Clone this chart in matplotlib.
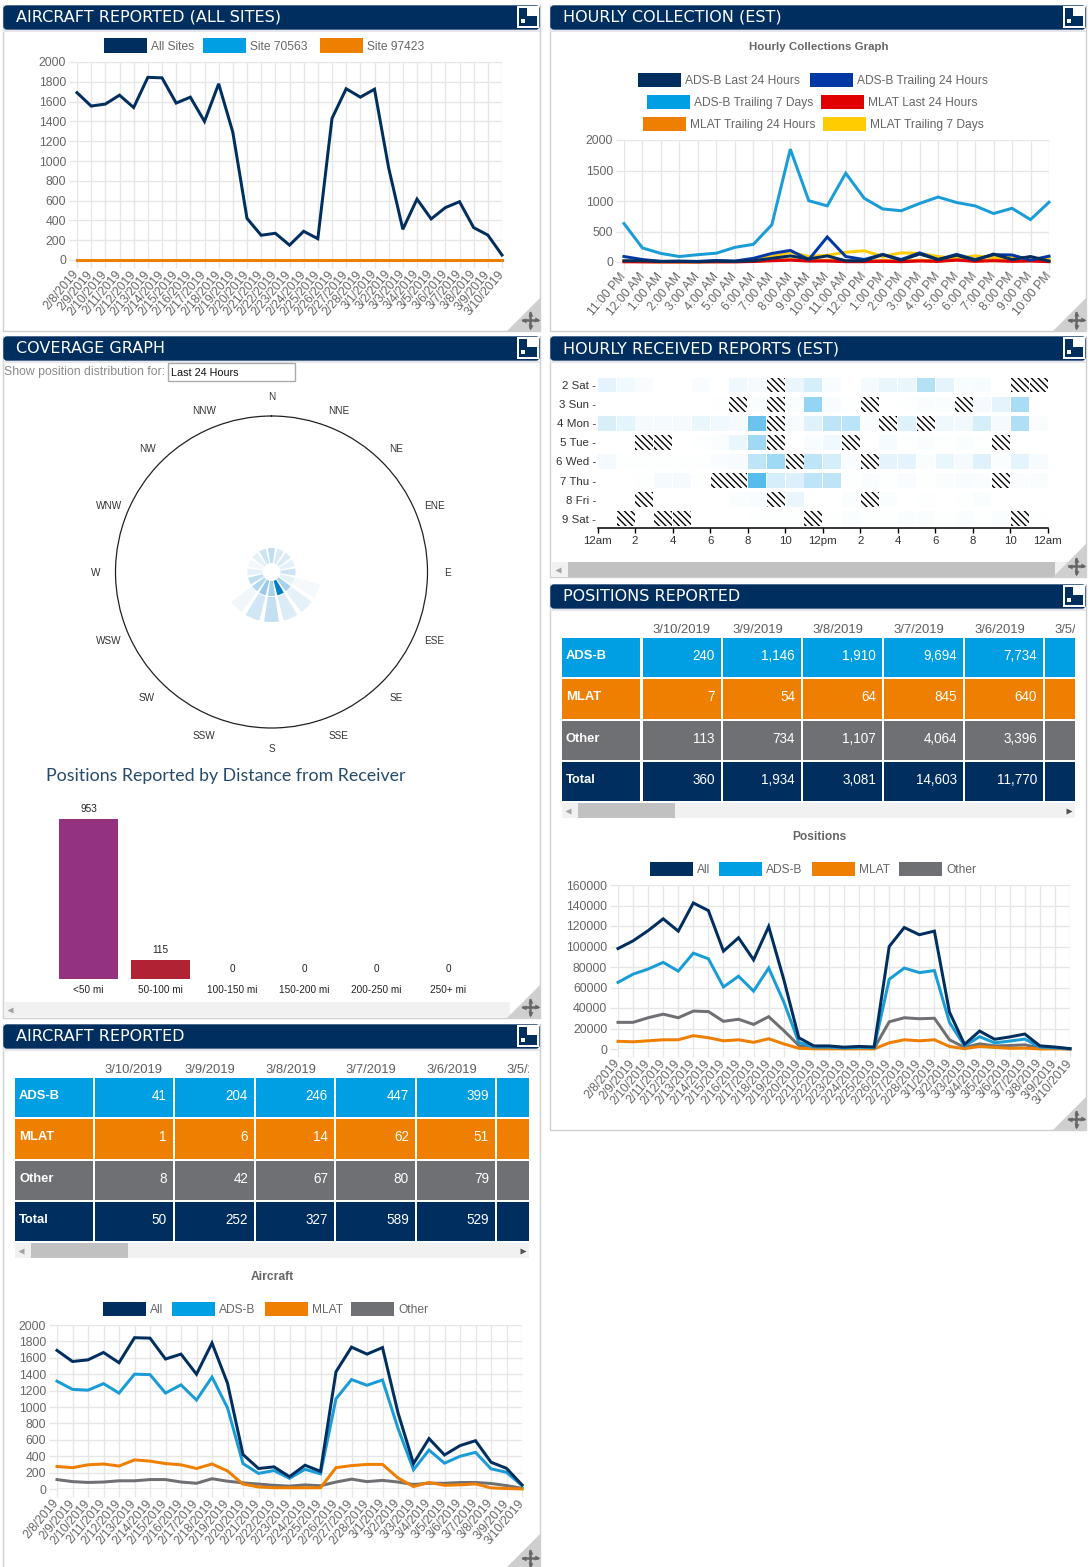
import matplotlib
matplotlib.use('Agg')
import matplotlib.pyplot as plt
from matplotlib.patches import Rectangle, Polygon, FancyBboxPatch
import numpy as np

W, H = 1091, 1567
NAVY, BLUE, ORANGE, GREY = '#002f5f', '#009fe3', '#ef7f00', '#6f7074'
MID, RED, YELLOW = '#0039a6', '#e00000', '#ffcc00'
LINE_BLUE = '#1a9cd6'

dates = ['2/8/2019','2/9/2019','2/10/2019','2/11/2019','2/12/2019','2/13/2019','2/14/2019','2/15/2019',
         '2/16/2019','2/17/2019','2/18/2019','2/19/2019','2/20/2019','2/21/2019','2/22/2019','2/23/2019',
         '2/24/2019','2/25/2019','2/26/2019','2/27/2019','2/28/2019','3/1/2019','3/2/2019','3/3/2019',
         '3/4/2019','3/5/2019','3/6/2019','3/7/2019','3/8/2019','3/9/2019','3/10/2019']
air_all = [1690,1555,1575,1665,1540,1845,1840,1585,1645,1400,1780,1290,420,250,270,150,290,215,1430,1730,1645,
           1725,930,310,615,415,529,589,327,252,50]
air_adsb = [1315,1215,1205,1285,1170,1400,1395,1170,1270,1085,1365,990,310,190,225,130,240,185,1100,1335,1265,
            1330,740,235,475,315,399,447,246,204,41]
air_mlat = [275,260,295,305,280,355,340,310,295,250,305,220,60,25,15,15,15,15,260,285,300,
            300,135,30,80,45,51,62,14,6,1]
air_other = [115,90,80,85,100,100,115,115,85,70,125,95,75,60,45,35,50,40,85,120,90,
             105,85,55,70,70,79,80,67,42,8]
site_70563 = [0]*31
site_97423 = [0]*31

pos_all = [98000,105500,115500,127000,115000,142500,135000,95500,108500,87000,119500,68000,11000,3000,3000,1800,2500,2000,
           100000,118500,111500,115000,36000,4500,17500,9500,11770,14603,3081,1934,360]
pos_adsb = [65000,73000,78000,84500,76000,93500,88000,60500,71000,56500,79000,46000,6500,1800,1800,1000,1500,1300,
            68000,79000,74500,76500,26000,3000,12000,6000,7734,9694,1910,1146,240]
pos_mlat = [7500,7000,8000,9000,9000,13000,11000,8000,9000,6500,10000,5000,700,200,150,100,150,120,
            6000,9000,8000,9000,2500,300,2500,1500,640,845,64,54,7]
pos_other = [26000,26000,30500,34000,30500,37000,36500,27000,29000,24000,31500,18000,3500,1000,900,600,800,700,
             26500,30500,29500,30000,9000,1500,5000,3000,3396,4064,1107,734,113]

hours = ['11:00 PM','12:00 AM','1:00 AM','2:00 AM','3:00 AM','4:00 AM','5:00 AM','6:00 AM','7:00 AM','8:00 AM','9:00 AM',
         '10:00 AM','11:00 AM','12:00 PM','1:00 PM','2:00 PM','3:00 PM','4:00 PM','5:00 PM','6:00 PM','7:00 PM','8:00 PM',
         '9:00 PM','10:00 PM']
h_adsb_last = [20,20,10,10,5,15,10,20,60,100,50,100,20,20,120,30,130,40,110,30,130,40,90,15]
h_adsb_t24 = [90,40,10,15,10,25,15,60,140,190,40,410,90,40,125,40,150,40,125,40,120,115,30,95]
h_adsb_t7 = [630,230,140,90,120,145,240,290,610,1850,1005,920,1455,1045,870,840,960,1065,975,920,795,880,695,980]
h_mlat_last = [3,2,1,1,1,2,2,8,20,30,15,15,5,5,10,5,15,10,30,10,20,10,15,5]
h_mlat_t24 = [10,5,2,2,2,5,5,10,30,40,20,30,20,10,30,15,30,15,40,20,30,20,25,15]
h_mlat_t7 = [20,10,5,5,5,10,10,30,90,160,90,110,160,185,90,150,140,90,60,100,70,80,60,60]

# heat map: share of the top colour per hour; None = hatched (no data)
X = None
days = ['2 Sat -','3 Sun -','4 Mon -','5 Tue -','6 Wed -','7 Thu -','8 Fri -','9 Sat -']
heat_sat2 = [.12,.07,.03,0,0,.03,0,.08,.05,X,.1,.2,.03,0,.05,.1,.1,.35,.12,.03,.04,0,X,X]
heat_sun3 = [0,0,0,0,0,0,.01,X,.02,X,.02,.5,.03,.01,X,0,.01,.02,.02,X,.05,.12,.4,0]
heat_mon4 = [.18,.13,.05,.05,.05,.1,.07,.05,.7,X,.04,.15,.3,.32,.02,X,.15,X,.08,.06,.2,.05,.38,.02]
heat_tue5 = [0,0,X,X,0,.01,.02,.1,.45,X,0,.03,.07,X,0,.04,.01,.02,.01,.02,.01,X,0,0]
heat_wed6 = [.05,.01,.01,.01,.01,.01,.03,.04,.3,.45,X,.3,.2,.03,X,.12,.12,.02,.1,.05,.15,.02,.12,.04]
heat_thu7 = [0,0,.01,.05,.05,.01,X,X,.8,.2,.17,.3,.3,.01,.02,.01,.03,.01,.02,.03,.02,X,.02,.02]
heat_fri8 = [0,0,X,0,0,0,0,.02,.03,X,.1,0,0,.02,X,.02,0,.01,0,.01,.02,0,0,0]
heat_sat9 = [0,X,0,X,X,0,0,0,.01,.01,.01,X,.01,.02,.01,.01,.02,.02,.01,.02,.01,.02,X,.01]
heat_rows = [heat_sat2,heat_sun3,heat_mon4,heat_tue5,heat_wed6,heat_thu7,heat_fri8,heat_sat9]
heat_ticks = ['12am','2','4','6','8','10','12pm','2','4','6','8','10','12am']

compass = ['N','NNE','NE','ENE','E','ESE','SE','SSE','S','SSW','SW','WSW','W','WNW','NW','NNW']
rose_inner = [.25,.15,.15,.1,.2,.1,.35,1.0,.35,.4,.3,.25,.1,.05,.1,.2]
rose_outer = [0,0,0,0,0,.04,.1,.14,.24,.18,.06,0,0,0,0,0]

dist_labels = ['<50 mi','50-100 mi','100-150 mi','150-200 mi','200-250 mi','250+ mi']
dist_values = [953,115,0,0,0,0]
dist_colors = ['#93327f','#b12234','#888888','#888888','#888888','#888888']

table_dates = ['3/10/2019','3/9/2019','3/8/2019','3/7/2019','3/6/2019','3/5/2019']
table_rows = ['ADS-B','MLAT','Other','Total']
pos_table = [['240','1,146','1,910','9,694','7,734'],['7','54','64','845','640'],
             ['113','734','1,107','4,064','3,396'],['360','1,934','3,081','14,603','11,770']]
air_table = [['41','204','246','447','399'],['1','6','14','62','51'],
             ['8','42','67','80','79'],['50','252','327','589','529']]

plt.rcParams['font.family'] = ['Liberation Sans', 'DejaVu Sans']
plt.rcParams['hatch.linewidth'] = 1.0
fig = plt.figure(figsize=(W/100, H/100), dpi=100, facecolor='white')
px = lambda p: p*0.72

root = fig.add_axes([0, 0, 1, 1])
root.set_xlim(0, W); root.set_ylim(H, 0); root.axis('off')

def rect(x0, y0, x1, y1, fc, ec='none', lw=0, z=1, ax=root):
    r = Rectangle((x0, y0), x1-x0, y1-y0, facecolor=fc, edgecolor=ec, linewidth=lw, zorder=z)
    ax.add_patch(r)
    return r

def axes_px(x0, y0, x1, y1, **kw):
    a = fig.add_axes([x0/W, 1-y1/H, (x1-x0)/W, (y1-y0)/H], **kw)
    a.patch.set_alpha(0)
    return a

def panel(x0, y0, x1, y1, title):
    root.plot([x0, x0, x1, x1], [y0, y1, y1, y0], color='#cfcfcf', lw=1, zorder=1)
    root.add_patch(FancyBboxPatch((x0+1, y0+1), x1-x0-2, 23, boxstyle='round,pad=0,rounding_size=3',
                                  fc=NAVY, ec=NAVY, lw=1, zorder=3))
    rect(x0, y0+25, x1, y0+27, '#e4e6e9', z=2)
    root.text(x0+13, y0+12.5, title, color='white', fontsize=px(16), va='center', ha='left',
              family='DejaVu Sans', zorder=4)
    # corner icon
    ix = x1-23
    rect(ix, y0+1, ix+22, y0+23, 'white', z=4)
    rect(ix+2, y0+3, ix+20, y0+21, NAVY, z=5)
    rect(ix+10, y0+3, ix+20, y0+11, 'white', z=6)
    rect(ix+4, y0+14, ix+8, y0+18, 'white', z=6)
    # resize corner
    by = min(y1, H)
    root.add_patch(Polygon([[x1, by-33], [x1, by], [x1-33, by]], closed=True, fc='#cfcfcf', ec='none', zorder=6))
    cx, cy = x1-10, by-11
    if y1 > H:
        cx, cy = x1-10, H-9
    root.plot([cx-7, cx+7], [cy, cy], color='#666666', lw=1.8, zorder=7)
    root.plot([cx, cx], [cy-7, cy+7], color='#666666', lw=1.8, zorder=7)
    for mk, mx, my in [('<', cx-7, cy), ('>', cx+7, cy), ('^', cx, cy-7), ('v', cx, cy+7)]:
        root.plot([mx], [my], marker=mk, ms=3.6, color='#666666', mec='none', zorder=7)

def legend(items, y):
    for bx, color, label in items:
        rect(bx, y-7.5, bx+43, y+7, color, z=3)
        root.text(bx+47, y+1, label, fontsize=px(12), color='#666666', va='center', ha='left', zorder=3)

def line_chart(box, ymax, step, labels, series):
    a = axes_px(*box)
    n = len(labels)
    xs = np.arange(n)
    for values, color in series:
        a.plot(xs, values, color=color, lw=px(3), solid_joinstyle='miter', clip_on=False, zorder=3)
    a.set_xlim(0, n-1); a.set_ylim(0, ymax)
    a.set_yticks(np.arange(0, ymax+1, step))
    a.set_xticks(xs); a.set_xticklabels(labels, rotation=50, ha='right', va='center', rotation_mode='anchor')
    a.grid(True, color='#e6e6e6', lw=1)
    a.set_axisbelow(True)
    a.tick_params(axis='both', color='#e6e6e6', length=px(8), width=1, labelcolor='#666666', labelsize=px(12.3), pad=2)
    a.tick_params(axis='x', pad=3)
    for s in ['top', 'right', 'left', 'bottom']:
        a.spines[s].set_visible(False)
    a.axhline(0, color='#b5b5b5', lw=1, zorder=2)
    return a

def scrollbar(x0, x1, y0, y1, thumb=None, right_arrow=False):
    rect(x0, y0, x1, y1, '#f1f1f1', z=2)
    ym = (y0+y1)/2
    root.plot([x0+6], [ym], marker='<', ms=4, color='#a3a3a3', mec='none', zorder=3)
    if right_arrow:
        root.plot([x1-6], [ym], marker='>', ms=4, color='#505050', mec='none', zorder=3)
    if thumb:
        rect(thumb[0], y0, thumb[1], y1, '#c1c1c1', z=3)

def table(x_edges, y_top, clip_right, values):
    clip = Rectangle((x_edges[0][0], y_top-25), clip_right-x_edges[0][0], 200, transform=root.transData)
    colors = [BLUE, ORANGE, GREY, NAVY]
    for j, (xa, xb) in enumerate(x_edges[1:]):
        t = root.text(xa+9, y_top-8, table_dates[j], fontsize=px(13), color='#5f5f5f', ha='left', va='center',
                      zorder=3, clip_on=True)
        t.set_clip_path(clip)
    for i, name in enumerate(table_rows):
        ya = y_top + i*41.3
        yb = ya + 39.3
        for j, (xa, xb) in enumerate(x_edges):
            rect(xa, ya, min(xb, clip_right), yb, colors[i], z=2)
        root.text(x_edges[0][0]+4, (ya+yb)/2-1.5, name, fontsize=px(13), color='white', fontweight='bold',
                  ha='left', va='center', zorder=3)
        for j in range(5):
            root.text(x_edges[j+1][1]-6, (ya+yb)/2-1.5, values[i][j], fontsize=px(13.5), color='white',
                      ha='right', va='center', zorder=3)

# ----- panels
panel(3, 5, 540, 331, 'AIRCRAFT REPORTED (ALL SITES)')
panel(550, 5, 1086, 331, 'HOURLY COLLECTION (EST)')
panel(3, 336, 540, 1018, 'COVERAGE GRAPH')
panel(550, 336, 1086, 577, 'HOURLY RECEIVED REPORTS (EST)')
panel(550, 584, 1086, 1130, 'POSITIONS REPORTED')
panel(3, 1024, 540, 1600, 'AIRCRAFT REPORTED')

# ----- aircraft, all sites
legend([(104, NAVY, 'All Sites'), (203, BLUE, 'Site 70563'), (320, ORANGE, 'Site 97423')], 45.5)
line_chart((77, 62, 502, 260), 2000, 200, dates,
           [(site_70563, BLUE), (site_97423, ORANGE), (air_all, NAVY)])

# ----- hourly collection
root.text(819, 47.5, 'Hourly Collections Graph', fontsize=px(11.5), color='#666666', fontweight='bold', ha='center', va='center')
legend([(638, NAVY, 'ADS-B Last 24 Hours'), (810, MID, 'ADS-B Trailing 24 Hours')], 80)
legend([(647, BLUE, 'ADS-B Trailing 7 Days'), (821, RED, 'MLAT Last 24 Hours')], 102)
legend([(643, ORANGE, 'MLAT Trailing 24 Hours'), (823, YELLOW, 'MLAT Trailing 7 Days')], 124)
line_chart((624, 140, 1049, 262), 2000, 500, hours,
           [(h_mlat_t7, YELLOW), (h_mlat_t24, ORANGE), (h_mlat_last, RED), (h_adsb_t7, LINE_BLUE),
            (h_adsb_t24, MID), (h_adsb_last, NAVY)])

# ----- coverage
root.text(4, 372.5, 'Show position distribution for:', fontsize=px(12.3), color='#8a8a8a', ha='left', va='center')
rect(168, 363, 295, 380.5, 'white', ec='#aaaaaa', lw=1, z=2)
root.text(171, 372.5, 'Last 24 Hours', fontsize=px(10.7), color='#111111', ha='left', va='center', zorder=3)

cx, cy, R = 271.5, 572, 156
pol = fig.add_axes([(cx-R)/W, 1-(cy+R)/H, 2*R/W, 2*R/H], projection='polar')
pol.set_theta_zero_location('N'); pol.set_theta_direction(-1)
pol.set_ylim(0, R)
pol.set_xticks([]); pol.set_yticks([])
pol.spines['polar'].set_color('#222222'); pol.spines['polar'].set_linewidth(0.9)
theta = np.deg2rad(np.arange(16)*22.5)
rings = [(9, 15), (25, 25)]
for shade, (base, height) in zip([rose_inner, rose_outer], rings):
    for th, s in zip(theta, shade):
        if s > 0:
            pol.bar(th, height, width=np.deg2rad(17), bottom=base, color='#007fc8', alpha=s, linewidth=0)
for th, name in zip(theta, compass):
    pol.annotate(name, (th, 176), xytext=(0, -1), textcoords='offset points', fontsize=px(10), color='#333333',
                 ha='center', va='center', annotation_clip=False)

root.text(46, 776, 'Positions Reported by Distance from Receiver', family='Lato', fontsize=px(17.8), color='#274b6d', ha='left', va='center')

bar_ax = axes_px(52.5, 819, 484.5, 979)
bar_x = np.arange(len(dist_values))
bar_ax.bar(bar_x, dist_values, width=59/72, color=dist_colors, linewidth=0)
bar_ax.set_xlim(-.5, 5.5); bar_ax.set_ylim(0, 953)
bar_ax.axis('off')
for x_, v_, l_ in zip(bar_x, dist_values, dist_labels):
    bar_ax.annotate(str(v_), (x_, v_), xytext=(0, 3.5), textcoords='offset points', fontsize=px(10), color='#222222',
                    ha='center', va='bottom', annotation_clip=False)
    bar_ax.annotate(l_, (x_, 0), xytext=(0, -4.5), textcoords='offset points', fontsize=px(10), color='#222222',
                    ha='center', va='top', annotation_clip=False)
scrollbar(4, 510, 1002, 1017)

# ----- heat map
hm = axes_px(597.5, 375.5, 1048, 527.5)
hm.set_xlim(0, 24); hm.set_ylim(7.46, -.5)
for r_, row in enumerate(heat_rows):
    for h_, v_ in enumerate(row):
        if v_ is None:
            hm.barh(r_, .96, height=.78, left=h_+.02, facecolor='white', edgecolor='black', hatch='\\\\\\\\\\', linewidth=0)
        elif v_ > 0:
            hm.barh(r_, .96, height=.78, left=h_+.02, color='#1fa7e6', alpha=v_*.95, linewidth=0)
hm.set_yticks(range(8)); hm.set_yticklabels(days)
hm.set_xticks(range(0, 25, 2)); hm.set_xticklabels(heat_ticks)
hm.tick_params(axis='y', length=0, pad=1, labelsize=px(11.5), labelcolor='#333333')
hm.tick_params(axis='x', length=px(5), width=1, color='black', pad=2.5, labelsize=px(11.5), labelcolor='#333333')
for s in ['top', 'right', 'left']:
    hm.spines[s].set_visible(False)
hm.spines['bottom'].set_linewidth(1.1)
scrollbar(552, 1072, 562, 577, thumb=(568, 1055))

# ----- positions
pos_cols = [(562,640),(643,721),(723,801),(803,882),(884,963),(965,1043),(1045,1120)]
table(pos_cols, 638, 1075, pos_table)
scrollbar(562, 1075, 803, 818, thumb=(578, 675), right_arrow=True)
root.text(819, 836.5, 'Positions', fontsize=px(12), color='#666666', fontweight='bold', ha='center', va='center')
legend([(650, NAVY, 'All'), (719, BLUE, 'ADS-B'), (812, ORANGE, 'MLAT'), (899, GREY, 'Other')], 869)
line_chart((618, 885, 1070, 1049), 160000, 20000, dates,
           [(pos_other, GREY), (pos_mlat, ORANGE), (pos_adsb, LINE_BLUE), (pos_all, NAVY)])

# ----- aircraft
air_cols = [(15,93),(95,173),(175,254),(256,334),(336,415),(417,495),(497,580)]
table(air_cols, 1078, 529, air_table)
scrollbar(15, 529, 1243, 1258, thumb=(31, 128), right_arrow=True)
root.text(272, 1276.5, 'Aircraft', fontsize=px(12), color='#666666', fontweight='bold', ha='center', va='center')
legend([(103, NAVY, 'All'), (172, BLUE, 'ADS-B'), (265, ORANGE, 'MLAT'), (351, GREY, 'Other')], 1309)
line_chart((57, 1325, 522, 1489), 2000, 200, dates,
           [(air_other, GREY), (air_mlat, ORANGE), (air_adsb, LINE_BLUE), (air_all, NAVY)])

fig.savefig('out.png', dpi=100)
